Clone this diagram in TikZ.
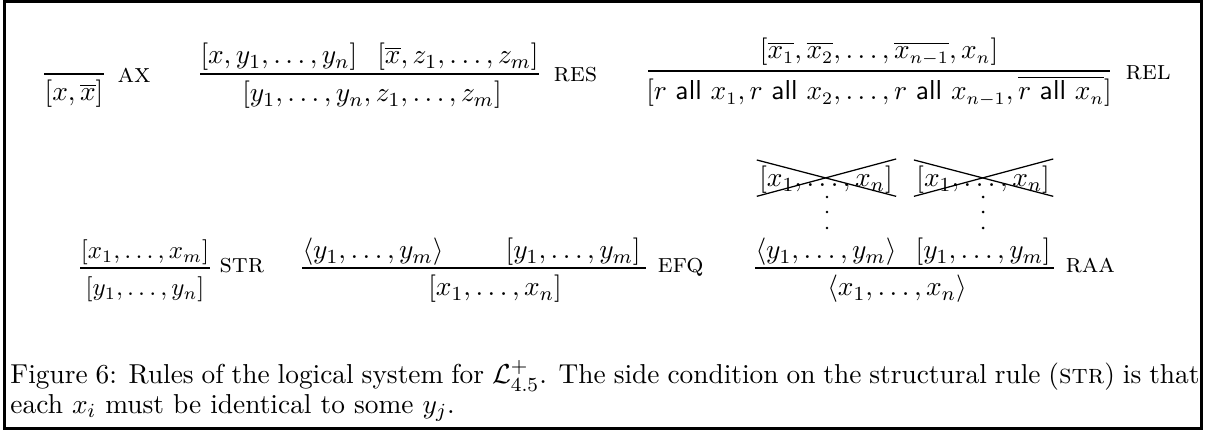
\documentclass[tikz,border=0pt]{standalone}
\usepackage{amsmath}
\begin{document}
\begin{tikzpicture}[x=0.4pt,y=-0.4pt,
  mathfont/.style={font=\fontsize{10.8}{13}\selectfont},
  relfont/.style={font=\fontsize{10.5}{12.6}\selectfont},
  strfont/.style={font=\fontsize{10}{12}\selectfont},
  f/.style={inner sep=0pt, anchor=base, mathfont},
  fl/.style={inner sep=0pt, anchor=base west, mathfont},
  fr/.style={inner sep=0pt, anchor=base east, mathfont},
  lab/.style={inner sep=0pt, anchor=base west, mathfont},
  infline/.style={line width=0.8pt},
  crossline/.style={line width=0.5pt},
  dotmark/.style={fill=black}]
\useasboundingbox (0,0) rectangle (1205,431);
\draw[line width=1.2pt] (4.5,1.5) rectangle (1201.5,429);
% ---------- AX
\coordinate (axy) at (0,74);
\node[f] (axc) at (74,101) {$[x,\overline{x}]$};
\draw[infline] (axc.west |- axy) -- (axc.east |- axy);
\node[lab] (axlab) at (117,83) {\textsc{ax}};
% ---------- RES
\coordinate (resy) at (0,74);
\node[fl] (resp1) at (200,64) {$[x,y_1,\ldots,y_n]$};
\node[fr] (resp2) at (539,64) {$[\overline{x},z_1,\ldots,z_m]$};
\node[f] (resc) at (372,102) {$[y_1,\ldots,y_n,z_1,\ldots,z_m]$};
\draw[infline] (resp1.west |- resy) -- (resp2.east |- resy);
\node[lab] (reslab) at (553,82) {\textsc{res}};
% ---------- REL
\coordinate (rell) at (648,71); \coordinate (relr) at (1110,71);
\node[f, relfont] (relp) at (879,59) {$[\overline{x_1},\overline{x_2},\ldots,\overline{x_{n-1}},x_n]$};
\node[f, relfont] (relc) at (879,100) {$[r\ \mathsf{all}\ x_1,r\ \mathsf{all}\ x_2,\ldots,r\ \mathsf{all}\ x_{n-1},\overline{r\ \mathsf{all}\ x_n}]$};
\draw[infline] (rell) -- (relr);
\node[lab] (rellab) at (1125,80) {\textsc{rel}};
% ---------- STR
\coordinate (row2) at (0,268);
\node[f, strfont] (strp) at (145,259) {$[x_1,\ldots,x_m]$};
\node[f, strfont] (strc) at (145,296) {$[y_1,\ldots,y_n]$};
\draw[infline] (strp.west |- row2) -- (strp.east |- row2);
\node[lab] (strlab) at (219,273) {\textsc{str}};
% ---------- EFQ
\node[fl] (efqp1) at (302,259) {$\langle y_1,\ldots,y_m\rangle$};
\node[fr] (efqp2) at (641,259) {$[y_1,\ldots,y_m]$};
\node[f] (efqc) at (495,296) {$[x_1,\ldots,x_n]$};
\draw[infline] (efqp1.west |- row2) -- ([xshift=2]efqp2.east |- row2);
\node[lab] (efqlab) at (657,273) {\textsc{efq}};
% ---------- RAA
\coordinate (hrow) at (0,187);
\node[fl] (raap1) at (755,259) {$\langle y_1,\ldots,y_m\rangle$};
\node[fr] (raap2) at (1051,259) {$[y_1,\ldots,y_m]$};
\node[f] (h1) at (raap1.base |- hrow) {$[x_1,\ldots,x_n]$};
\node[f] (h2) at (raap2.base |- hrow) {$[x_1,\ldots,x_n]$};
\draw[crossline] ([shift={(-2,-6)}]h1.north west) -- ([shift={(3,2)}]h1.south east);
\draw[crossline] ([shift={(-2,2)}]h1.south west) -- ([shift={(3,-7)}]h1.north east);
\draw[crossline] ([shift={(-2,-6)}]h2.north west) -- ([shift={(3,2)}]h2.south east);
\draw[crossline] ([shift={(-2,2)}]h2.south west) -- ([shift={(3,-7)}]h2.north east);
\foreach \dy in {10,25,41} {
  \fill[dotmark] (h1.base) ++(1,\dy) circle (1.4);
  \fill[dotmark] (h2.base) ++(0,\dy) circle (1.4);
}
\node[f] (raac) at (897,296) {$\langle x_1,\ldots,x_n\rangle$};
\draw[infline] (raap1.west |- row2) -- ([xshift=1]raap2.east |- row2);
\node[lab] (raalab) at (1065,273) {\textsc{raa}};
% ---------- caption
\node[inner sep=0pt, anchor=base west, text width=475.6pt, align=justify,
      font=\fontsize{10.95}{10.6}\selectfont] (cap) at (10,384)
 {Figure 6: Rules of the logical system for $\mathcal{L}^{+}_{4.5}$. The side condition on the structural rule (\textsc{str}) is that\linebreak each $x_i$ must be identical to some $y_j$.};
\end{tikzpicture}
\end{document}
